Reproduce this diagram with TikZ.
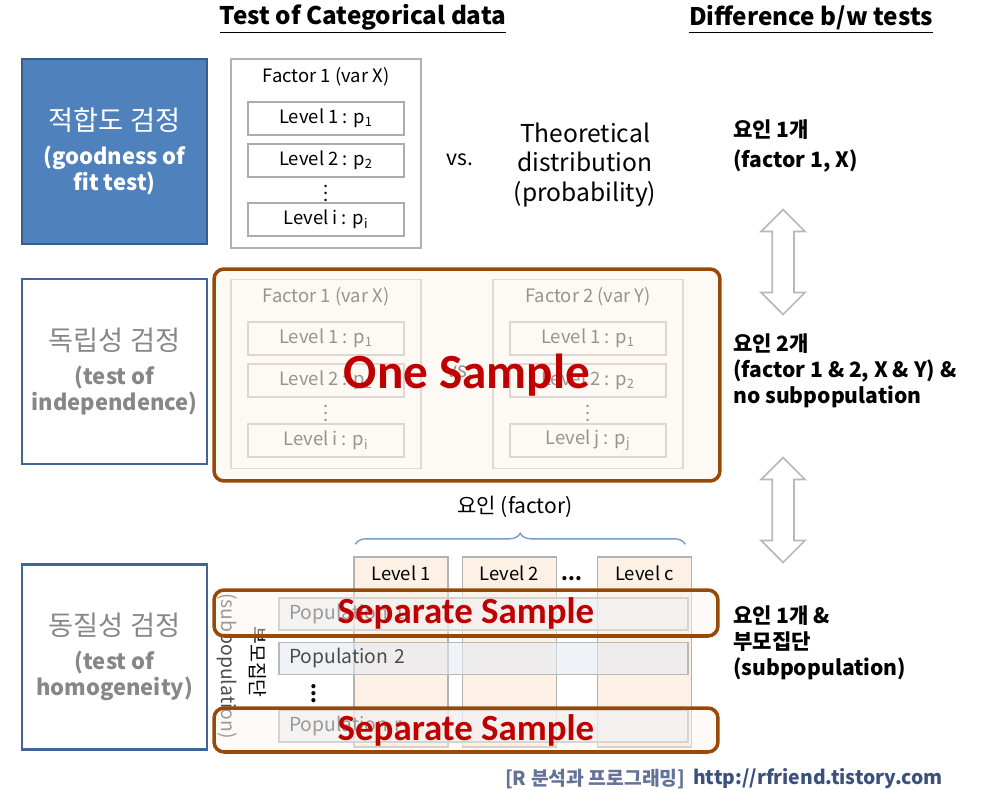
\documentclass[tikz,border=0pt]{standalone}
\usepackage{fontspec}
\setmainfont{Noto Sans CJK KR}
\newfontfamily\calibfont{Carlito}
\usetikzlibrary{shapes.arrows,decorations.pathreplacing}

\definecolor{gofblue}{RGB}{79,129,189}
\definecolor{gofedge}{RGB}{56,93,138}
\definecolor{testedge}{RGB}{65,101,150}
\definecolor{testtext}{RGB}{135,135,135}
\definecolor{sampbrown}{RGB}{152,72,7}
\definecolor{sampfill}{RGB}{252,245,238}
\definecolor{colfill}{RGB}{253,241,230}
\definecolor{popfill}{RGB}{228,233,242}
\definecolor{samplered}{RGB}{192,0,0}
\definecolor{bracecol}{RGB}{120,155,205}
\definecolor{footblue}{RGB}{60,80,125}

\newcommand{\korline}[1]{{\mdseries\fontsize{15.5}{18}\selectfont #1}}

\tikzset{
  testbox/.style={draw=testedge, line width=1.5pt, minimum width=3.7cm, minimum height=3.7cm, align=center, text=testtext,
    font=\bfseries\fontsize{12.5}{15}\selectfont},
  factorbox/.style={draw=gray!60, line width=0.8pt, minimum width=3.8cm, minimum height=3.78cm},
  lvlbox/.style={draw=gray!65, line width=0.8pt, minimum width=3.12cm, minimum height=0.66cm, font=\fontsize{10.5}{12}\selectfont},
  smalltext/.style={font=\fontsize{10.5}{12}\selectfont},
  difftext/.style={anchor=west, align=left, font=\bfseries\fontsize{12}{14.7}\selectfont},
  samplebox/.style={draw=sampbrown, line width=2pt, rounded corners=0.2cm, fill=sampfill, text=samplered, text opacity=1},
  colbox/.style={draw=gray!60, line width=0.8pt, fill=colfill, minimum width=1.88cm, minimum height=3.8cm},
  poprow/.style={draw=gray!55, line width=0.8pt, fill=popfill, fill opacity=0.6, text opacity=1, text=black!70,
    inner xsep=0.2cm, text width=7.78cm, minimum height=0.64cm, align=left, font=\fontsize{11}{13}\selectfont},
  dblarrow/.style={double arrow, draw=gray!55, line width=1pt, fill=white, rotate=90, inner sep=0.2cm,
    double arrow head extend=0.22cm, minimum height=2.1cm}
}

\begin{document}
\begin{tikzpicture}[x=0.02cm, y=-0.02cm]
    \useasboundingbox (0,0) rectangle (993,790);

    % Column titles
    \node[font=\bfseries\fontsize{13.8}{16}\selectfont] (ttlcat) at (363,19) {\underline{Test of Categorical data}};
    \node[font=\bfseries\fontsize{13.8}{16}\selectfont] (ttldiff) at (811,19) {\underline{Difference b/w tests}};

    % Draw goodness of fit row
    \node[testbox, fill=gofblue, draw=gofedge, text=white] (gof) at (114.5,151.5)
        {\korline{적합도 검정}\\[4pt](goodness of\\fit test)};
    \node[factorbox] (fac1a) at (326,153.5) {};
    \node[smalltext] (fac1atitle) at (326,77) {Factor 1 (var X)};
    \node[lvlbox] (lv1a) at (326,118.5) {Level 1 : p\textsubscript{1}};
    \node[lvlbox] (lv2a) at (326,160.5) {Level 2 : p\textsubscript{2}};
    \node[smalltext] (dotsa) at (326,188) {$\vdots$};
    \node[lvlbox] (lvia) at (326,219.5) {Level i : p\textsubscript{i}};
    \node[font=\fontsize{12}{14}\selectfont] (vsa) at (460,160) {vs.};
    \node[align=center, font=\fontsize{14}{17}\selectfont] (theo) at (585,165) {Theoretical\\distribution\\(probability)};
    \node[difftext] (diffa) at (727,146) {요인 1개\\[2.3pt](factor 1, X)};

    % Draw test of independence row
    \node[testbox] (indep) at (114.5,371.5)
        {\korline{독립성 검정}\\[4pt](test of\\independence)};
    \node[factorbox] (fac1b) at (326,374) {};
    \node[smalltext] (fac1btitle) at (326,297) {Factor 1 (var X)};
    \node[lvlbox] (lv1b) at (326,338.5) {Level 1 : p\textsubscript{1}};
    \node[lvlbox] (lv2b) at (326,380.5) {Level 2 : p\textsubscript{2}};
    \node[smalltext] (dotsb) at (326,408) {$\vdots$};
    \node[lvlbox] (lvib) at (326,440.5) {Level i : p\textsubscript{i}};
    \node[font=\fontsize{12}{14}\selectfont] (vsb) at (460,372) {vs.};
    \node[factorbox] (fac2b) at (588,374) {};
    \node[smalltext] (fac2btitle) at (588,297) {Factor 2 (var Y)};
    \node[lvlbox] (lv1c) at (588,338.5) {Level 1 : p\textsubscript{1}};
    \node[lvlbox] (lv2c) at (588,380.5) {Level 2 : p\textsubscript{2}};
    \node[smalltext] (dotsc) at (588,408) {$\vdots$};
    \node[lvlbox] (lvjc) at (588,440.5) {Level j : p\textsubscript{j}};
    \node[samplebox, fill opacity=0.6, minimum width=10.12cm, minimum height=4.24cm,
        font=\calibfont\bfseries\fontsize{28}{30}\selectfont] (onesample) at (467,375) {One Sample};
    \node[difftext] (diffb) at (727,371) {요인 2개\\(factor 1 \& 2, X \& Y) \&\\no subpopulation};

    % Double arrows between rows
    \node[dblarrow] (arrab) at (783,262) {};
    \node[dblarrow] (arrbc) at (783,510) {};

    % Draw test of homogeneity row
    \node[testbox] (homog) at (114.5,657)
        {\korline{동질성 검정}\\[4pt](test of\\homogeneity)};
    \node[colbox] (col1) at (401,652) {};
    \node[colbox] (col2) at (509.5,652) {};
    \node[colbox] (colc) at (644.5,652) {};
    \node[smalltext] (hd1) at (401,573) {Level 1};
    \node[smalltext] (hd2) at (509.5,573) {Level 2};
    \node[smalltext] (hdc) at (644.5,573) {Level c};
    \node[font=\bfseries\fontsize{11}{13}\selectfont] (hddots) at (572,579) {...};
    \node[font=\fontsize{12}{14}\selectfont] (factorlbl) at (515,507) {요인 (factor)};
    \draw[bracecol, line width=0.8pt, decorate, decoration={brace, amplitude=0.22cm}]
        ([shift={(2,-12)}]col1.north west) -- ([shift={(-7,-12)}]colc.north east);
    \node[poprow] (pop1) at (483.5,614) {Population 1};
    \node[poprow] (pop2) at (483.5,658.5) {Population 2};
    \node[font=\bfseries\fontsize{11}{13}\selectfont] (popdots) at (314,688) {$\vdots$};
    \node[poprow] (popr) at (483.5,726) {Population r};
    \node[rotate=-90, text=black!70, font=\fontsize{11}{13}\selectfont] (subpop) at (227,666) {(subpopulation)};
    \node[rotate=-90, font=\fontsize{11}{13}\selectfont] (bumo) at (258,662) {부모집단};
    \node[samplebox, fill opacity=0.45, minimum width=10.08cm, minimum height=0.92cm,
        font=\calibfont\bfseries\fontsize{21}{23}\selectfont] (sep1) at (466,613) {Separate Sample};
    \node[samplebox, fill opacity=0.45, minimum width=10.08cm, minimum height=0.88cm,
        font=\calibfont\bfseries\fontsize{21}{23}\selectfont] (sep2) at (466,730) {Separate Sample};
    \node[difftext] (diffc) at (727,643) {요인 1개 \&\\부모집단\\(subpopulation)};

    % Footer
    \node[anchor=west, text=footblue!80, font=\bfseries\fontsize{11}{13}\selectfont] (blog) at (499,779) {[R 분석과 프로그래밍]};
    \node[anchor=east, text=footblue, font=\bfseries\fontsize{11}{13}\selectfont] (url) at (949,779) {http://rfriend.tistory.com};
\end{tikzpicture}
\end{document}
